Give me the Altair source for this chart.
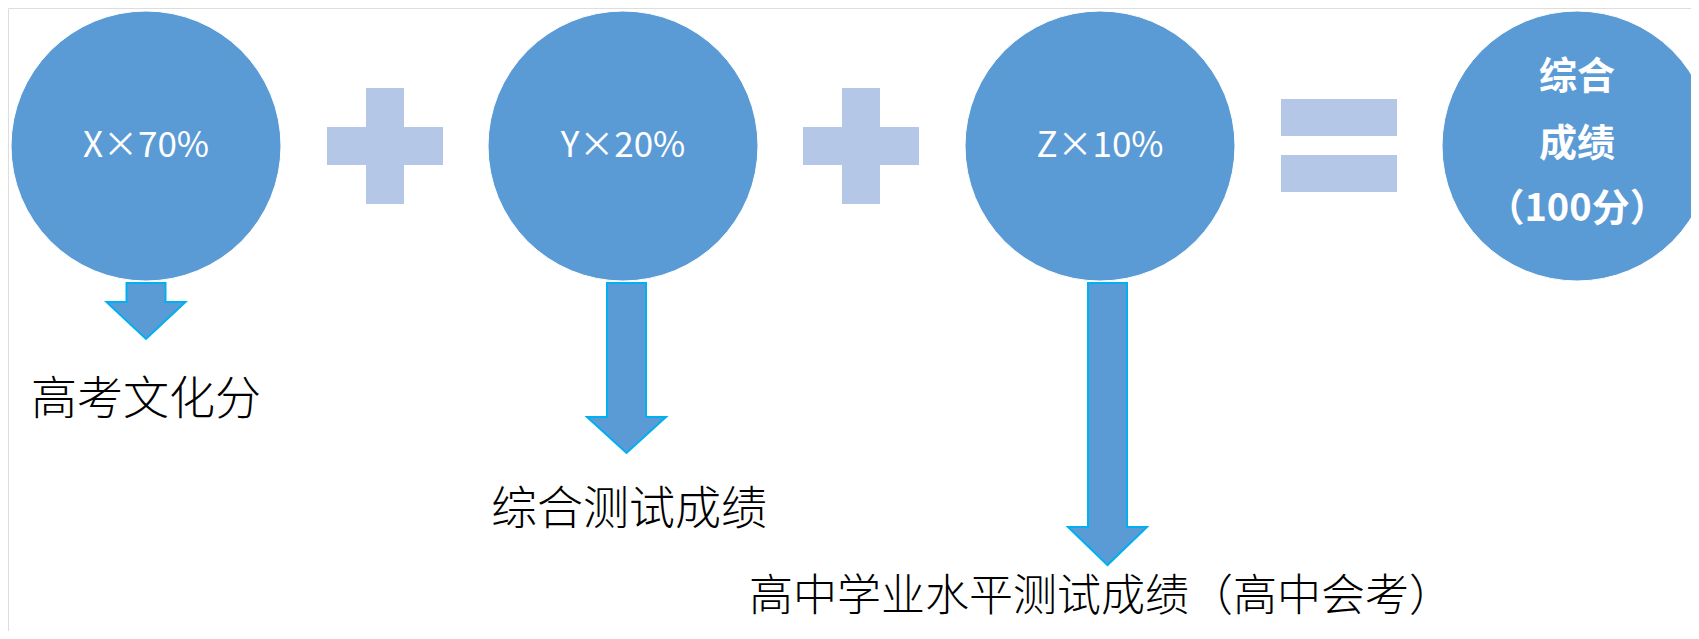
import altair as alt
import pandas as pd

# ---- data (reference pixel units) ----
circle_x = [146, 623, 1100, 1577]
circle_y = [146, 146, 146, 146]
circle_text = ["X×70%", "Y×20%", "Z×10%", ""]
circle_diam = 270

result_lines = ["综合", "成绩", "（100分）"]
result_y = [78, 145, 210]

plus_cx = [385, 861]
plus_cy = 146
plus_half_len = 58
plus_half_w = 19

eq_x = [1281, 1397]
eq_bars_y = [[99, 136], [155, 192]]

arrow_cx = [146, 626.5, 1107.5]
arrow_top = [283, 283, 283]
arrow_head = [302, 417, 527]
arrow_tip = [339, 453, 565]
shaft_half = 19.5
head_half = 39.5

labels = ["高考文化分", "综合测试成绩", "高中学业水平测试成绩（高中会考）"]
label_x = [146, 629, 1101]
label_y = [400, 510, 598]
label_size = [46, 46, 44]

BLUE = "#5B9BD5"
LIGHT = "#B4C7E7"
CYAN = "#00B0F0"

W, H = 1699, 639
xs = alt.Scale(domain=[0, W], range=[-8, W - 8])
ys = alt.Scale(domain=[0, H], range=[-8, H - 8])
X = lambda f: alt.X(f, type="quantitative", scale=xs, axis=None)
Y = lambda f: alt.Y(f, type="quantitative", scale=ys, axis=None)

circles = pd.DataFrame({"x": circle_x, "y": circle_y, "t": circle_text})
circ = alt.Chart(circles).mark_point(
    shape="circle", filled=True, fill=BLUE, opacity=1, size=circle_diam ** 2,
    stroke="white", strokeWidth=1
).encode(x=X("x"), y=Y("y"))

circ_txt = alt.Chart(circles).mark_text(
    font="Noto Sans CJK SC", fontSize=35, color="white", baseline="middle", align="center"
).encode(x=X("x"), y=Y("y"), text="t:N")

res = pd.DataFrame({"x": [circle_x[3]] * 3, "y": result_y, "t": result_lines})
res_txt = alt.Chart(res).mark_text(
    font="Noto Sans CJK SC", fontSize=38, fontWeight="bold", color="white",
    baseline="middle", align="center"
).encode(x=X("x"), y=Y("y"), text="t:N")

# plus & equals rectangles
rects = []
for cx in plus_cx:
    rects.append((cx - plus_half_len, cx + plus_half_len, plus_cy - plus_half_w, plus_cy + plus_half_w))
    rects.append((cx - plus_half_w, cx + plus_half_w, plus_cy - plus_half_len, plus_cy + plus_half_len))
for y0, y1 in eq_bars_y:
    rects.append((eq_x[0], eq_x[1], y0, y1))
rect_df = pd.DataFrame(rects, columns=["x", "x2", "y", "y2"])
ops = alt.Chart(rect_df).mark_rect(color=LIGHT).encode(
    x=X("x"), x2="x2:Q", y=Y("y"), y2="y2:Q"
)

# arrows as closed polygons
pts = []
for i, (cx, t, h, tip) in enumerate(zip(arrow_cx, arrow_top, arrow_head, arrow_tip)):
    poly = [(cx - shaft_half, t), (cx + shaft_half, t), (cx + shaft_half, h),
            (cx + head_half, h), (cx, tip), (cx - head_half, h), (cx - shaft_half, h)]
    for j, (px, py) in enumerate(poly):
        pts.append({"a": i, "o": j, "x": px, "y": py})
arr_df = pd.DataFrame(pts)
arrows = alt.Chart(arr_df).mark_line(
    interpolate="linear-closed", fill=BLUE, stroke=CYAN, strokeWidth=2, strokeJoin="miter"
).encode(x=X("x"), y=Y("y"), detail="a:N", order="o:Q")

lab_df = pd.DataFrame({"x": label_x, "y": label_y, "t": labels, "s": label_size})
labs = alt.Chart(lab_df).mark_text(
    font="Noto Sans CJK SC", fontWeight=300, color="black",
    baseline="middle", align="center"
).encode(x=X("x"), y=Y("y"), text="t:N",
         size=alt.Size("s:Q", scale=None, legend=None))

chart = alt.layer(ops, arrows, circ, circ_txt, res_txt, labs).properties(
    width=W - 16, height=H - 16, padding=0,
    autosize=alt.AutoSizeParams(type="none")
).configure_view(stroke=None).configure(background="white")

chart.save("out.html", embed_options={"renderer": "svg", "actions": False})
